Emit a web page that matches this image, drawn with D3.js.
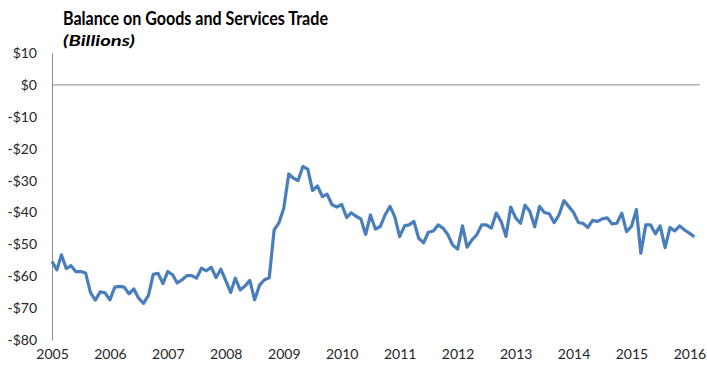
<!DOCTYPE html>
<html>
<head>
<meta charset="utf-8">
<script src="https://cdn.jsdelivr.net/npm/d3@7"></script>
<style>
  body { margin: 0; background: #fff; }
  text { font-family: Lato, "Open Sans", sans-serif; }
</style>
</head>
<body>
<div id="chart"></div>
<script>
// chart text
const title = 'Balance on Goods and Services Trade';
const subtitle = '(Billions)';

// monthly balance, Jan 2005 .. Feb 2016 (billions of dollars)
const startMonth = new Date(2005, 0, 1);
const balance = [
    // 2005
    -55.4, -58.0, -53.3, -57.6, -56.7, -58.6, -58.5, -59.0, -65.2, -67.5, -64.9, -65.2,
    // 2006
    -67.4, -63.4, -63.2, -63.4, -65.5, -64.0, -66.9, -68.5, -66.0, -59.4, -59.1, -62.3,
    // 2007
    -58.5, -59.6, -62.1, -61.1, -59.8, -59.8, -60.6, -57.5, -58.3, -57.2, -60.4, -57.8,
    // 2008
    -61.4, -65.1, -60.6, -64.3, -63.1, -61.3, -67.4, -62.8, -61.1, -60.5, -45.5, -43.3,
    // 2009
    -38.6, -27.9, -29.2, -30.0, -25.6, -26.4, -33.1, -31.7, -35.0, -34.3, -37.6, -38.3,
    // 2010
    -37.5, -41.6, -40.1, -41.2, -42.0, -46.9, -40.8, -45.2, -44.4, -40.8, -38.1, -41.3,
    // 2011
    -47.6, -44.2, -43.9, -42.8, -48.1, -49.5, -46.2, -45.8, -43.9, -44.9, -47.0, -50.2,
    // 2012
    -51.5, -44.2, -50.9, -48.6, -47.0, -43.9, -43.9, -44.9, -40.2, -42.8, -47.5, -38.3,
    // 2013
    -41.7, -43.4, -37.7, -39.7, -44.5, -38.1, -40.0, -40.4, -43.2, -40.8, -36.3, -38.1,
    // 2014
    -40.0, -43.2, -43.4, -44.7, -42.5, -42.8, -42.0, -41.7, -43.6, -43.4, -40.2, -46.0,
    // 2015
    -44.4, -39.1, -52.8, -43.9, -43.9, -46.7, -44.2, -51.0, -44.7, -45.8, -44.2, -45.5,
    // 2016
    -46.5, -47.6
];

const yTicks = d3.range(-80, 20, 10);      // -$80 .. $10
const yearTicks = d3.range(2005, 2017);     // 2005 .. 2016

// dimens.
const width = 707;
const height = 373;
const plot = { left: 52, top: 53, bottom: 340, right: 700 };

const data = balance.map((v, i) => ({ date: d3.timeMonth.offset(startMonth, i), value: v }));

const svg = d3.select('#chart')
    .append('svg')
    .attr('width', width)
    .attr('height', height);

// scales
const x = d3.scaleTime()
    .domain([startMonth, data[data.length - 1].date])
    .range([plot.left, 694.3]);

const y = d3.scaleLinear()
    .domain([-80, 10])
    .range([plot.bottom, plot.top]);

// y axis
const yAxis = svg.append('g')
    .attr('transform', `translate(${plot.left},0)`)
    .call(d3.axisLeft(y)
        .tickValues(yTicks)
        .tickSize(0)
        .tickPadding(15)
        .tickFormat(v => (v < 0 ? '-' : '') + '$' + Math.abs(v)));
yAxis.select('.domain').attr('stroke', '#8c8c8c');
yAxis.selectAll('text')
    .attr('font-size', 14)
    .attr('fill', '#262626');

// x axis labels (under the plot)
const xAxis = svg.append('g')
    .attr('transform', `translate(0,${plot.bottom})`)
    .call(d3.axisBottom(x)
        .tickValues(yearTicks.map(yr => new Date(yr, 0, 1)))
        .tickSize(0)
        .tickPadding(9)
        .tickFormat(d3.timeFormat('%Y')));
xAxis.select('.domain').remove();
xAxis.selectAll('text')
    .attr('font-size', 14)
    .attr('fill', '#262626');

// zero line
svg.append('line')
    .attr('x1', plot.left)
    .attr('x2', plot.right)
    .attr('y1', y(0))
    .attr('y2', y(0))
    .attr('stroke', '#8c8c8c')
    .attr('stroke-width', 1);

// the series
const line = d3.line()
    .x(d => x(d.date))
    .y(d => y(d.value));

svg.append('path')
    .datum(data)
    .attr('d', line)
    .attr('fill', 'none')
    .attr('stroke', '#4a7ebb')
    .attr('stroke-width', 3.2)
    .attr('stroke-linejoin', 'round');

// titles
svg.append('text')
    .attr('x', 63)
    .attr('y', 25)
    .attr('font-size', 18)
    .attr('font-weight', 'bold')
    .attr('fill', '#000')
    .attr('textLength', 265)
    .attr('lengthAdjust', 'spacingAndGlyphs')
    .text(title);

svg.append('text')
    .attr('x', 63)
    .attr('y', 46)
    .attr('font-size', 15)
    .attr('font-weight', 'bold')
    .attr('font-style', 'italic')
    .attr('fill', '#000')
    .attr('textLength', 72)
    .attr('lengthAdjust', 'spacingAndGlyphs')
    .text(subtitle);
</script>
</body>
</html>
